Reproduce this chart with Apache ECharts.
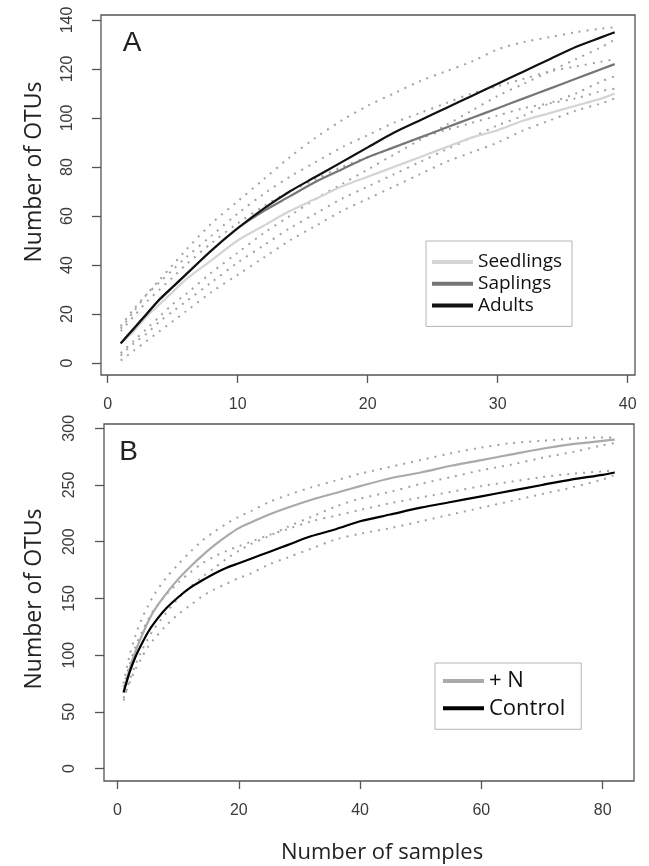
<!DOCTYPE html>
<html>
<head>
<meta charset="utf-8">
<script src="https://cdn.jsdelivr.net/npm/echarts@6/dist/echarts.min.js"></script>
<style>
html,body{margin:0;padding:0;background:#fff;}
#chart{width:649px;height:866px;}
</style>
</head>
<body>
<div id="chart"></div>
<script>
// ---------- Panel A data ----------
const xA = [1,2,3,4,5,6,8,10,12,14,16,18,20,22,24,26,28,30,32,34,36,38,39];
const seedlings   = [8,13,19,24,29,34,42,50,56,62,67,72,76,80,84,88,92,95,99,102,105,108,110];
const saplings    = [8,14,20,26,31,36,46,55,62,68,74,79,84,88,92,96,100,104,108,112,116,120,122];
const adults      = [8,14,20,26,31,36,46,55,63,70,76,82,88,94,99,104,109,114,119,124,129,133,135];
const adultsUpper = [14,21,28,34,40,46,57,66,75,84,92,99,105,110,115,119,123,128,131,133,135,136.5,137];
const adultsLower = [4,9,14,19,24,28,37,45,53,60,67,73,79,85,91,97,103,109,114,119,124,129,132];
const saplingsUpper = [15,22,28,33,38,43,52,61,69,76,82,88,93,98,102,106,110,113,116,119,121,123,124];
const saplingsLower = [3,8,12,17,21,25,33,41,48,55,61,67,72,77,82,87,92,97,101,106,110,115,117];
const seedlingsUpper = [13,19,25,30,35,40,49,57,64,70,75,80,84,88,92,95,98,101,104,106,108,111,112];
const seedlingsLower = [1,5,9,13,17,21,29,36,43,50,56,62,67,72,77,82,86,90,95,99,103,106,108];
const xTicksA = [0,10,20,30,40];
const yTicksA = [0,20,40,60,80,100,120,140];

// ---------- Panel B data ----------
const xB = [1,2,3,4,5,6,8,10,12,14,16,18,20,22,25,28,32,36,40,45,50,55,60,65,70,75,80,82];
const plusN        = [68,88,104,117,129,139,154,167,178,188,197,205,212,217,224,230,237,243,249,256,261,267,272,277,282,286,289,290];
const control      = [67,85,99,110,120,128,141,151,159.5,166,172,177,181,185,191,197,205,211,218,224,230,235,240,245,250,255,259,261];
const plusNUpper   = [75,100,118,132,143,153,168,180,191,201,209,216,222,227,235,241,248,254,260,266,272,278,283,287,289,291,292,292];
const plusNLower   = [60,78,92,104,114,123,137,150,160,169,177,185,192,198,205,213,222,231,238,244,251,257,263,268,274,279,285,287];
const controlUpper = [72,92,108,120,131,140,153,164,173,181,187,192,196,200,206,211,218,223,228,234,239,244,249,253,257,260,262,263];
const controlLower = [62,76,88,98,107,114,126,136,144,152,158,163,168,172,180,186,194,202,207,212,218,224,230,236,242,248,255,259];
const xTicksB = [0,20,40,60,80];
const yTicksB = [0,50,100,150,200,250,300];

const pair = (xs, ys) => xs.map((x, i) => [x, ys[i]]);

const tickFont = 'Liberation Sans, Arial, sans-serif';
const textFont = 'Open Sans, sans-serif';

function xAxisCfg(grid, min, max, ticks) {
  return {
    gridIndex: grid, type: 'value', min: min, max: max,
    axisLine: { show: false, onZero: false },
    axisTick: { show: true, length: 8, customValues: ticks, lineStyle: { color: '#555', width: 1.3 } },
    axisLabel: { customValues: ticks, fontSize: 16, fontFamily: tickFont, color: '#3a3a3a', margin: 22 },
    splitLine: { show: false }
  };
}
function yAxisCfg(grid, min, max, ticks, margin) {
  return {
    gridIndex: grid, type: 'value', min: min, max: max,
    axisLine: { show: false, onZero: false },
    axisTick: { show: true, length: 9, customValues: ticks, lineStyle: { color: '#555', width: 1.3 } },
    axisLabel: { customValues: ticks, fontSize: 16, fontFamily: tickFont, color: '#3a3a3a', margin: margin, rotate: 90 },
    splitLine: { show: false }
  };
}
function solid(name, grid, xs, ys, color, w) {
  return {
    name: name, type: 'line', xAxisIndex: grid, yAxisIndex: grid,
    data: pair(xs, ys), showSymbol: false, smooth: 0.3, z: 5,
    lineStyle: { color: color, width: w }, itemStyle: { color: color }
  };
}
function dotted(name, grid, xs, ys) {
  return {
    name: name, type: 'line', xAxisIndex: grid, yAxisIndex: grid,
    data: pair(xs, ys), showSymbol: false, smooth: 0.3, z: 3,
    lineStyle: { color: '#a2a2a2', width: 2, type: [2, 6] }, itemStyle: { color: '#a2a2a2' }
  };
}

const chart = echarts.init(document.getElementById('chart'), null, { renderer: 'canvas' });
chart.setOption({
  animation: false,
  backgroundColor: '#fff',
  grid: [
    { left: 101, top: 15, width: 534, height: 360, show: true, borderColor: '#555', borderWidth: 1.3, backgroundColor: 'transparent' },
    { left: 104, top: 424, width: 530, height: 357, show: true, borderColor: '#555', borderWidth: 1.3, backgroundColor: 'transparent' }
  ],
  xAxis: [
    xAxisCfg(0, -0.515, 40.56, xTicksA),
    xAxisCfg(1, -2.23, 85.17, xTicksB)
  ],
  yAxis: [
    yAxisCfg(0, -4.9, 142.04, yTicksA, 25),
    yAxisCfg(1, -11.0, 303.8, yTicksB, 26)
  ],
  legend: [
    {
      data: ['Seedlings', 'Saplings', 'Adults'], orient: 'vertical', left: 426, top: 241,
      padding: [11, 10, 11, 6], itemWidth: 41, itemHeight: 4, itemGap: 1.7, itemTextGap: 13,
      icon: 'rect', selectedMode: false, borderColor: '#b5b5b5', borderWidth: 1,
      textStyle: { fontSize: 19, fontFamily: textFont, color: '#111', lineHeight: 20 }
    },
    {
      data: ['+ N', 'Control'], orient: 'vertical', left: 435, top: 663,
      padding: [7, 16, 10, 8], itemWidth: 41, itemHeight: 4, itemGap: 5.3, itemTextGap: 11,
      icon: 'rect', selectedMode: false, borderColor: '#b5b5b5', borderWidth: 1,
      textStyle: { fontSize: 22, fontFamily: textFont, color: '#111', lineHeight: 22 }
    }
  ],
  graphic: [
    { type: 'text', x: 132, y: 43, style: { text: 'A', font: '28px ' + tickFont, fill: '#222', textAlign: 'center', textVerticalAlign: 'middle' } },
    { type: 'text', x: 128.5, y: 452, style: { text: 'B', font: '28px ' + tickFont, fill: '#222', textAlign: 'center', textVerticalAlign: 'middle' } },
    { type: 'text', x: 34, y: 172, rotation: Math.PI / 2, style: { text: 'Number of OTUs', font: '23px ' + textFont, fill: '#222', textAlign: 'center', textVerticalAlign: 'middle' } },
    { type: 'text', x: 34, y: 599, rotation: Math.PI / 2, style: { text: 'Number of OTUs', font: '23px ' + textFont, fill: '#222', textAlign: 'center', textVerticalAlign: 'middle' } },
    { type: 'text', x: 382, y: 853, style: { text: 'Number of samples', font: '22px ' + textFont, fill: '#222', textAlign: 'center', textVerticalAlign: 'middle' } }
  ],
  series: [
    dotted('Adults upper', 0, xA, adultsUpper),
    dotted('Adults lower', 0, xA, adultsLower),
    dotted('Saplings upper', 0, xA, saplingsUpper),
    dotted('Saplings lower', 0, xA, saplingsLower),
    dotted('Seedlings upper', 0, xA, seedlingsUpper),
    dotted('Seedlings lower', 0, xA, seedlingsLower),
    solid('Seedlings', 0, xA, seedlings, '#d4d4d4', 2.2),
    solid('Saplings', 0, xA, saplings, '#767676', 2.2),
    solid('Adults', 0, xA, adults, '#111111', 2.2),
    dotted('+ N upper', 1, xB, plusNUpper),
    dotted('+ N lower', 1, xB, plusNLower),
    dotted('Control upper', 1, xB, controlUpper),
    dotted('Control lower', 1, xB, controlLower),
    solid('+ N', 1, xB, plusN, '#aaaaaa', 2.2),
    solid('Control', 1, xB, control, '#000000', 2.2)
  ]
});
</script>
</body>
</html>
